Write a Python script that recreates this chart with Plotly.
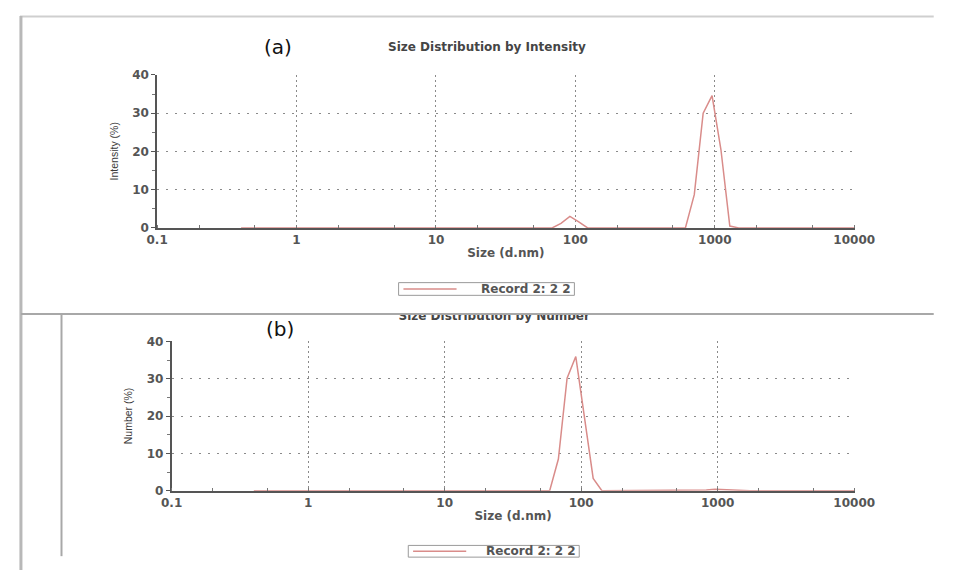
import plotly.graph_objects as go

# ---- data ----
size_nm = [0.4, 0.4632, 0.5365, 0.6213, 0.7195, 0.8332, 0.9649,
           1.117, 1.294, 1.499, 1.736, 2.010, 2.328, 2.696, 3.122, 3.615, 4.187, 4.849, 5.615, 6.503, 7.531, 8.721,
           10.10, 11.70, 13.54, 15.69, 18.17, 21.04, 24.36, 28.21, 32.67, 37.84, 43.82, 50.75, 58.77, 68.06, 78.82, 91.28,
           105.7, 122.4, 141.8, 164.2, 190.1, 220.2, 255.0, 295.3, 342.0, 396.1, 458.7, 531.2, 615.1, 712.4, 825.0, 955.4,
           1106, 1281, 1484, 1718, 1990, 2305, 2669, 3091, 3580, 4145, 4801, 5560, 6439, 7456, 8635, 10000]

intensity_pct = [0, 0, 0, 0, 0, 0, 0,
                 0, 0, 0, 0, 0, 0, 0, 0, 0, 0, 0, 0, 0, 0, 0,
                 0, 0, 0, 0, 0, 0, 0, 0, 0, 0, 0, 0, 0, 0, 1.2, 3.0,
                 1.6, 0, 0, 0, 0, 0, 0, 0, 0, 0, 0, 0, 0, 8.7, 30.0, 34.6,
                 20.5, 0.5, 0, 0, 0, 0, 0, 0, 0, 0, 0, 0, 0, 0, 0, 0]

number_pct = [0, 0, 0, 0, 0, 0, 0,
              0, 0, 0, 0, 0, 0, 0, 0, 0, 0, 0, 0, 0, 0, 0,
              0, 0, 0, 0, 0, 0, 0, 0, 0, 0, 0, 0, 0, 8.5, 30.2, 36.0,
              20.0, 3.3, 0, 0, 0, 0, 0, 0, 0, 0, 0, 0, 0, 0, 0.2, 0.4,
              0.3, 0, 0, 0, 0, 0, 0, 0, 0, 0, 0, 0, 0, 0, 0, 0]

x_tickvals = [0.1, 1, 10, 100, 1000, 10000]
x_ticktext = ["0.1", "1", "10", "100", "1000", "10000"]
y_tickvals = [0, 10, 20, 30, 40]
record_name = "Record 2: 2 2"
title_a = "Size Distribution by Intensity"
title_b = "Size Distribution by Number"

# the page body has an 8px margin: the figure is placed at (8, 8)
OFF = 8
W, H = 955 - 2 * OFF, 578 - 2 * OFF
def px(x):
    return (x - OFF) / W
def py(y):
    return 1 - (y - OFF) / H

LINE = "#d98c8a"
DV = "DejaVu Sans, Verdana, sans-serif"
TICKFONT = dict(family=DV, size=12, color="#555555", weight="bold")
NARROW = dict(family="Liberation Sans Narrow, Arial Narrow, Liberation Sans, sans-serif", size=10.5, color="#3a3a3a")
TITLEFONT = dict(family=DV, size=12, color="#454545", weight="bold")

fig = go.Figure()
fig.add_trace(go.Scatter(x=size_nm, y=intensity_pct, mode="lines", name=record_name,
                         line=dict(color=LINE, width=1.5), xaxis="x", yaxis="y", showlegend=False))
fig.add_trace(go.Scatter(x=size_nm, y=number_pct, mode="lines", name=record_name,
                         line=dict(color=LINE, width=1.5), xaxis="x2", yaxis="y2", showlegend=False))
# title of panel (b), partly hidden under the panel frame (clipped to a thin strip)
fig.add_trace(go.Scatter(x=[px(500)], y=[0.92], mode="text", text=[title_b], textposition="middle center",
                         textfont=TITLEFONT,
                         cliponaxis=True, xaxis="x3", yaxis="y3", showlegend=False, hoverinfo="skip"))

def xax(domain, anchor):
    return dict(domain=domain, anchor=anchor, type="log", range=[-1, 4.002],
                tickvals=x_tickvals, ticktext=x_ticktext, tickfont=TICKFONT,
                showgrid=True, gridcolor="#8a8a8a", griddash="2px,3px", gridwidth=1,
                showline=True, linecolor="#555", linewidth=1.5, ticks="", zeroline=False,
                minor=dict(ticks="inside", ticklen=3, tickcolor="#777", showgrid=False),
                title=dict(text="Size (d.nm)", font=TICKFONT, standoff=3))

def yax(domain, anchor, title):
    return dict(domain=domain, anchor=anchor, range=[0, 40.1], tickvals=y_tickvals, tickfont=TICKFONT,
                showgrid=True, gridcolor="#8a8a8a", griddash="2px,7px", gridwidth=1,
                showline=True, linecolor="#555", linewidth=1.5, ticks="outside", ticklen=4, tickcolor="#555",
                zeroline=False,
                minor=dict(tickvals=[5, 15, 25, 35], ticks="outside", ticklen=3, tickcolor="#777", showgrid=False),
                title=dict(text=title, font=NARROW, standoff=12))

def legend_box(x0, y0, x1, y1):
    ym = (y0 + y1) / 2
    return [
        dict(type="rect", xref="paper", yref="paper", x0=px(x0), x1=px(x1), y0=py(y1), y1=py(y0),
             line=dict(color="#9a9a9a", width=1), fillcolor="white", layer="above"),
        dict(type="line", xref="paper", yref="paper", x0=px(x0 + 5), x1=px(x0 + 60), y0=py(ym), y1=py(ym),
             line=dict(color=LINE, width=1.5), layer="above"),
    ]

def note(text, x, y, font, xanchor="center"):
    return dict(text=text, x=px(x), y=py(y), xref="paper", yref="paper", showarrow=False,
                xanchor=xanchor, yanchor="middle", font=font)

fig.update_layout(
    width=W, height=H, margin=dict(l=0, r=0, t=0, b=0),
    paper_bgcolor="white", plot_bgcolor="white",
    xaxis=xax([px(151), px(873)], "y"),
    yaxis=yax([py(227), py(70)], "x", "Intensity (%)"),
    xaxis2=xax([px(166), px(873)], "y2"),
    yaxis2=yax([py(496), py(343)], "x2", "Number (%)"),
    xaxis3=dict(domain=[0, 1], range=[0, 1], anchor="y3", visible=False),
    yaxis3=dict(domain=[py(340), py(316)], range=[0, 1], anchor="x3", visible=False),
    annotations=[
        note("(a)", 276, 42, dict(family=DV, size=20, color="#111")),
        note("(b)", 278, 330, dict(family=DV, size=20, color="#111")),
        note(title_a, 493, 42, TITLEFONT),
        note(record_name, 582, 290, TICKFONT, xanchor="right"),
        note(record_name, 587, 558, TICKFONT, xanchor="right"),
    ],
    shapes=[
        dict(type="line", xref="paper", yref="paper", x0=px(9), x1=px(955), y0=py(10.5), y1=py(10.5),
             line=dict(color="#cfcfcf", width=2)),
        dict(type="line", xref="paper", yref="paper", x0=px(10), x1=px(10), y0=py(10), y1=py(578),
             line=dict(color="#b8b8b8", width=3)),
        dict(type="line", xref="paper", yref="paper", x0=px(10), x1=px(955), y0=py(315), y1=py(315),
             line=dict(color="#a8a8a8", width=2)),
        dict(type="line", xref="paper", yref="paper", x0=px(52), x1=px(52), y0=py(316), y1=py(563),
             line=dict(color="#a8a8a8", width=2)),
    ] + legend_box(401, 283, 583, 296) + legend_box(411, 552, 588, 564),
)

fig.write_html("out.html")
